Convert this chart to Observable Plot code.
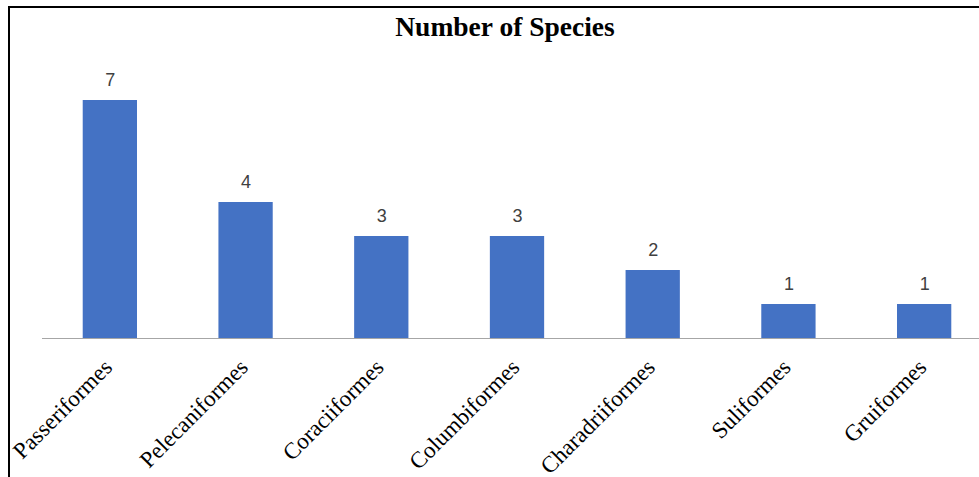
<!DOCTYPE html>
<html>
<head>
<meta charset="utf-8">
<script src="https://cdn.jsdelivr.net/npm/d3@7"></script>
<script src="https://cdn.jsdelivr.net/npm/@observablehq/plot@0.6"></script>
<style>
  html, body { margin: 0; padding: 0; background: #fff; overflow: hidden; }
  #wrap { position: relative; width: 979px; height: 477px; }
  #frame { position: absolute; left: 8px; top: 6px; width: 1000px; height: 500px;
           border-top: 2px solid #000; border-left: 2px solid #000; box-sizing: border-box; }
  #title { position: absolute; left: 305px; width: 400px; top: 11px; text-align: center;
           font-family: "Liberation Serif", "Times New Roman", serif; font-weight: bold; font-size: 27.5px; color: #000; }
  #chart { position: absolute; left: 0; top: 0; }
</style>
</head>
<body>
<div id="wrap">
  <div id="frame"></div>
  <div id="title">Number of Species</div>
  <div id="chart"></div>
</div>
<script>
const orders = ["Passeriformes", "Pelecaniformes", "Coraciiformes", "Columbiformes", "Charadriiformes", "Suliformes", "Gruiformes"];
const species = [7, 4, 3, 3, 2, 1, 1];

const data = orders.map((o, i) => ({order: o, n: species[i]}));

const chart = Plot.plot({
  width: 979,
  height: 477,
  marginLeft: 42,
  marginRight: 0,
  marginTop: 100,
  marginBottom: 139,
  x: {domain: orders, range: [42, 992], paddingInner: 0.6, paddingOuter: 0.3, align: 0.5, round: false, axis: null},
  y: {domain: [0, 7], axis: null},
  style: {background: "transparent", overflow: "visible"},
  marks: [
    Plot.barY(data, {x: "order", y: "n", fill: "#4472C4"}),
    Plot.ruleY([0], {stroke: "#a6a6a6", strokeWidth: 1}),
    Plot.text(data, {x: "order", y: "n", text: d => String(d.n), dy: -20,
      fill: "#404040", fontSize: 18, fontFamily: "Liberation Sans, Arial, sans-serif"}),
    Plot.text(data, {x: "order", frameAnchor: "bottom", text: "order", rotate: -45,
      textAnchor: "end", lineAnchor: "middle", dx: -2, dy: 25,
      fill: "#000", fontSize: 23, fontFamily: "Liberation Serif, Times New Roman, serif"})
  ]
});
document.getElementById("chart").appendChild(chart);
</script>
</body>
</html>
